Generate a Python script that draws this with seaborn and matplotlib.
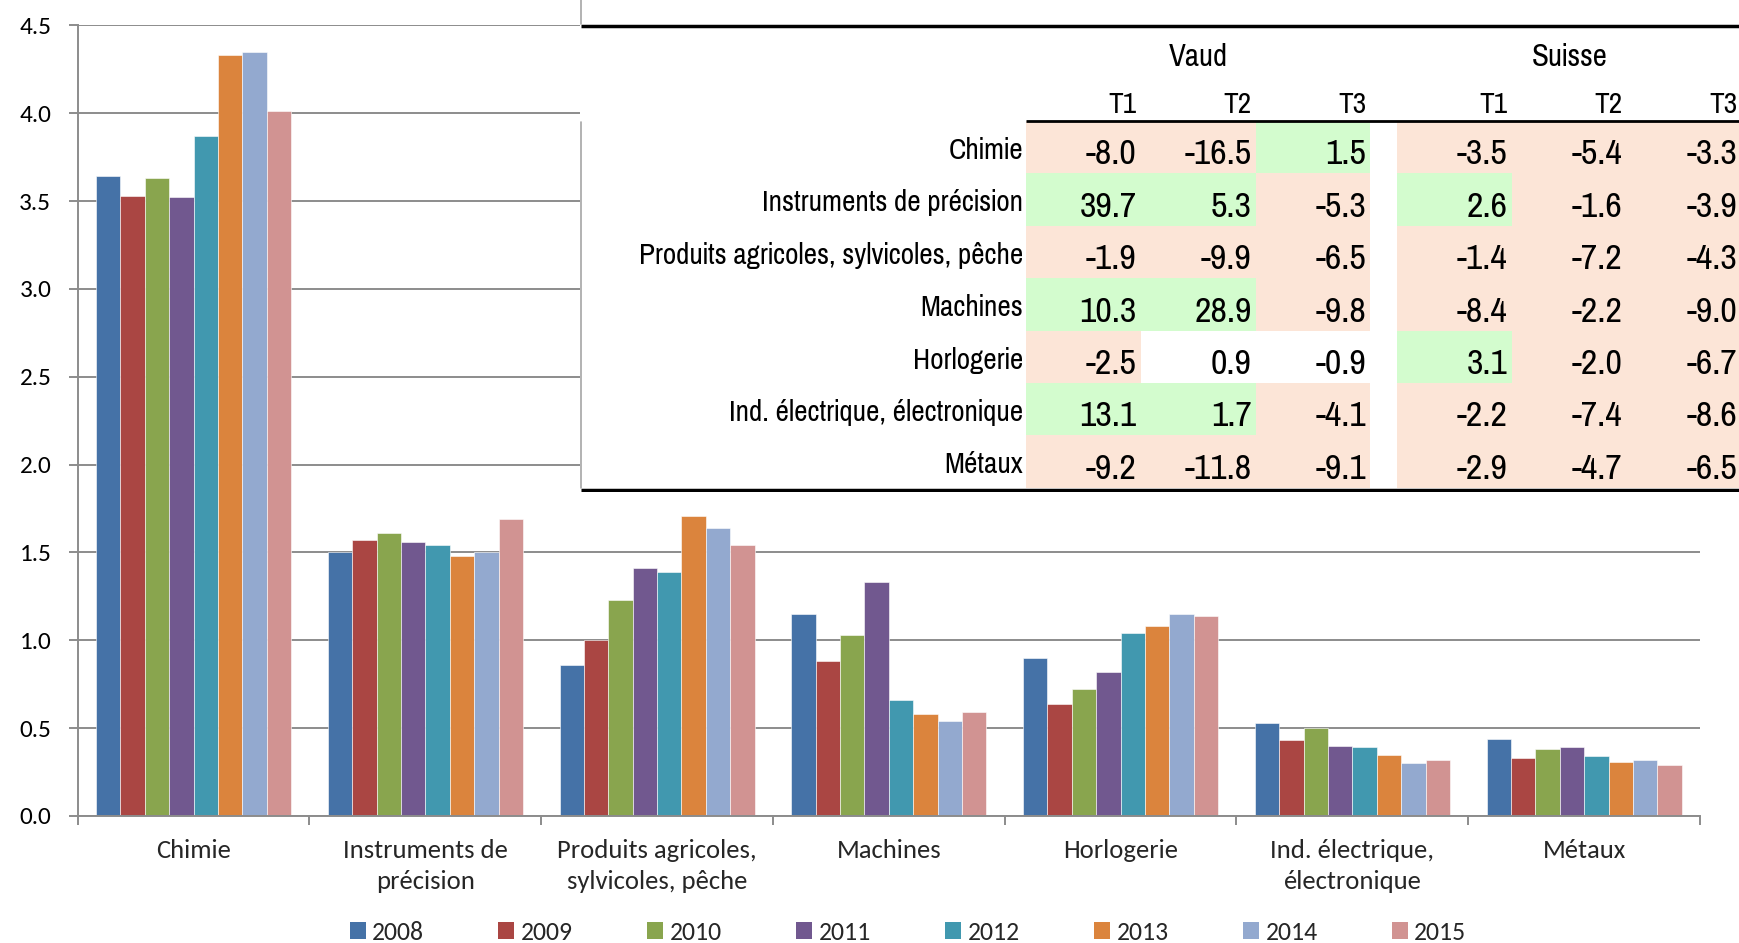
import numpy as np
import pandas as pd
import seaborn as sns
import matplotlib
matplotlib.use("Agg")
import matplotlib.pyplot as plt
from matplotlib.patches import Rectangle, Patch
from matplotlib.ticker import FormatStrFormatter
from matplotlib import font_manager

# ---------------- data ----------------
categories = ["Chimie", "Instruments de\nprécision", "Produits agricoles,\nsylvicoles, pêche",
              "Machines", "Horlogerie", "Ind. électrique,\nélectronique", "Métaux"]
years = ["2008", "2009", "2010", "2011", "2012", "2013", "2014", "2015"]
v2008 = [3.64, 1.50, 0.86, 1.15, 0.90, 0.53, 0.44]
v2009 = [3.53, 1.57, 1.00, 0.88, 0.64, 0.43, 0.33]
v2010 = [3.63, 1.61, 1.23, 1.03, 0.72, 0.50, 0.38]
v2011 = [3.52, 1.56, 1.41, 1.33, 0.82, 0.40, 0.39]
v2012 = [3.87, 1.54, 1.39, 0.66, 1.04, 0.39, 0.34]
v2013 = [4.33, 1.48, 1.71, 0.58, 1.08, 0.35, 0.31]
v2014 = [4.35, 1.50, 1.64, 0.54, 1.15, 0.30, 0.32]
v2015 = [4.01, 1.69, 1.54, 0.59, 1.14, 0.32, 0.29]
series = [v2008, v2009, v2010, v2011, v2012, v2013, v2014, v2015]
colors = ["#4572A7", "#AA4643", "#89A54E", "#71588F", "#4198AF", "#DB843D", "#93A9CF", "#D19392"]

table_rows = ["Chimie", "Instruments de précision", "Produits agricoles, sylvicoles, pêche",
              "Machines", "Horlogerie", "Ind. électrique, électronique", "Métaux"]
groups = ["Vaud", "Suisse"]
quarters = ["T1", "T2", "T3"]
vaud_t1 = [-8.0, 39.7, -1.9, 10.3, -2.5, 13.1, -9.2]
vaud_t2 = [-16.5, 5.3, -9.9, 28.9, 0.9, 1.7, -11.8]
vaud_t3 = [1.5, -5.3, -6.5, -9.8, -0.9, -4.1, -9.1]
suisse_t1 = [-3.5, 2.6, -1.4, -8.4, 3.1, -2.2, -2.9]
suisse_t2 = [-5.4, -1.6, -7.2, -2.2, -2.0, -7.4, -4.7]
suisse_t3 = [-3.3, -3.9, -4.3, -9.0, -6.7, -8.6, -6.5]
table_cols = [[vaud_t1, vaud_t2, vaud_t3], [suisse_t1, suisse_t2, suisse_t3]]

# ---------------- fonts ----------------
names = {f.name for f in font_manager.fontManager.ttflist}
def pick(cands):
    for c in cands:
        if c in names:
            return c
    return "DejaVu Sans"
chart_font = pick(["Carlito", "Lato", "Open Sans"])
table_font = pick(["Liberation Sans Narrow", "Arimo Narrow", "Pragati Narrow", "Roboto Condensed",
                   "Archivo Narrow", "Liberation Sans"])

sns.set_style("white")
plt.rcParams["font.family"] = [chart_font, "DejaVu Sans"]

W, H = 1740, 943
fig = plt.figure(figsize=(W / 100, H / 100), dpi=100)
fig.patch.set_facecolor("white")
renderer = fig.canvas.get_renderer()

def fit_size(text, family, target_px, base=20.0):
    t = fig.text(0, 0, text, fontsize=base, family=family)
    w = t.get_window_extent(renderer).width
    t.remove()
    return base * target_px / w

# ---------------- bar chart ----------------
x0, x1, ytop, ybot = 77.7, 1700, 25.3, 816
ax = fig.add_axes([x0 / W, 1 - ybot / H, (x1 - x0) / W, (ybot - ytop) / H])

df = pd.DataFrame([(c, y, v) for y, s in zip(years, series) for c, v in zip(categories, s)],
                  columns=["cat", "year", "val"])
sns.barplot(data=df, x="cat", y="val", hue="year", order=categories, hue_order=years,
            palette=colors, saturation=1, width=0.842, edgecolor="white", linewidth=0.4,
            legend=False, ax=ax, errorbar=None)

cf = [chart_font, "DejaVu Sans"]
ytick_fs = fit_size("4.5", cf, 32)
xtick_fs = fit_size("Chimie", cf, 75)
leg_fs = fit_size("2008", cf, 52.5)

grid_c = "#8C8C8C"
ax.set_ylim(0, 4.5)
ax.set_xlim(-0.5, len(categories) - 0.5)
ax.set_yticks(np.arange(0, 4.51, 0.5))
ax.yaxis.set_major_formatter(FormatStrFormatter("%.1f"))
ax.yaxis.grid(True, color=grid_c, linewidth=1.4)
ax.set_axisbelow(True)
ax.set_xlabel("")
ax.set_ylabel("")
for s in ["top", "right"]:
    ax.spines[s].set_visible(False)
for s in ["left", "bottom"]:
    ax.spines[s].set_color(grid_c)
    ax.spines[s].set_linewidth(1.4)
ax.tick_params(axis="y", which="major", length=6.5, width=1.4, color=grid_c,
               direction="out", pad=12.5, labelsize=ytick_fs, labelcolor="black", left=True)
ax.set_xticks(range(len(categories)))
ax.set_xticklabels(categories, fontsize=xtick_fs, linespacing=1.4)
ax.set_xticks(np.arange(-0.5, len(categories), 1), minor=True)
ax.tick_params(axis="x", which="major", length=0, pad=16.5)
ax.tick_params(axis="x", which="minor", length=6.5, width=1.4, color=grid_c,
               direction="out", bottom=True)

handles = [Patch(facecolor=c, edgecolor="none") for c in colors]
fig.legend(handles, years, loc="center", bbox_to_anchor=(908 / W, 1 - 932 / H), ncol=8,
           frameon=False, fontsize=leg_fs, handlelength=0.62, handleheight=0.62,
           handletextpad=0.25, columnspacing=2.88, borderaxespad=0, borderpad=0)

# ---------------- table overlay ----------------
TX0, TY1 = 580, 492
at = fig.add_axes([TX0 / W, 1 - TY1 / H, (W - TX0) / W, TY1 / H], zorder=5)
at.set_xlim(TX0, W)
at.set_ylim(TY1, 0)
at.axis("off")
at.add_patch(Rectangle((TX0, 0), W - TX0, 491, facecolor="white", edgecolor="none", zorder=0))

tfam = [table_font, "DejaVu Sans"]
lab_fs = fit_size("Instruments de précision", tfam, 261)
val_fs = fit_size("-16.5", tfam, 67)
grp_fs = fit_size("Suisse", tfam, 76)
q_fs = grp_fs * 0.95

label_right = 1023
col_w = 114.8
group_left = [1026, 1397]
row_top, row_h = 121, 52.4
peach, green = "#FCE5D7", "#D3FCCE"

tf = dict(family=tfam, color="black")
for gi, g in enumerate(groups):
    gl = group_left[gi]
    at.text(gl + 1.5 * col_w, 66.5, g, ha="center", va="baseline", fontsize=grp_fs, **tf)
    for qi, q in enumerate(quarters):
        right = gl + (qi + 1) * col_w
        at.text(right - 4, 113, q, ha="right", va="baseline", fontsize=q_fs, **tf)
        vals = table_cols[gi][qi]
        for ri, v in enumerate(vals):
            top = row_top + ri * row_h
            fc = green if v > 1 else (peach if v < -1 else "white")
            at.add_patch(Rectangle((gl + qi * col_w, top), col_w, row_h,
                                   facecolor=fc, edgecolor="none", zorder=1))
            at.text(right - 4, top + 43.5, f"{v:.1f}", ha="right", va="baseline",
                    fontsize=val_fs, zorder=3, **tf)

for ri, r in enumerate(table_rows):
    at.text(label_right, row_top + ri * row_h + 38, r, ha="right", va="baseline",
            fontsize=lab_fs, zorder=3, **tf)

at.plot([581, W], [25.5, 25.5], color="black", lw=2.5, solid_capstyle="butt", zorder=4)
at.plot([581, W], [489.5, 489.5], color="black", lw=2.5, solid_capstyle="butt", zorder=4)
at.plot([group_left[0], W], [120.5, 120.5], color="black", lw=2.0, solid_capstyle="butt", zorder=4)
at.plot([581, 581], [0, 24], color="#A6A6A6", lw=1.2, zorder=4)
at.plot([581, 581], [122, 488], color="#A6A6A6", lw=1.2, zorder=4)

fig.savefig("out.png", dpi=100, facecolor="white")
